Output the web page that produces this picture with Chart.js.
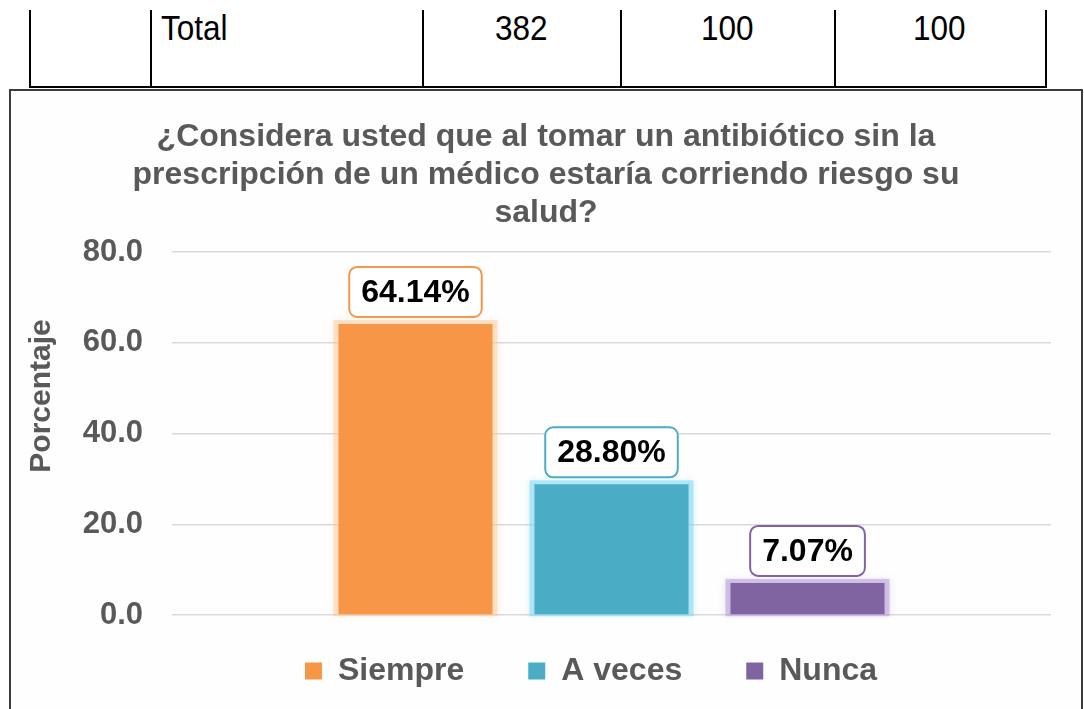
<!DOCTYPE html>
<html>
<head>
<meta charset="utf-8">
<script src="https://cdn.jsdelivr.net/npm/chart.js@4.4.1/dist/chart.umd.min.js"></script>
<style>
  html, body { margin: 0; padding: 0; background: #fff; width: 1084px; height: 709px; overflow: hidden; font-family: "Liberation Sans", Arial, sans-serif; }
  .vline { position: absolute; top: 10px; height: 78px; width: 2px; background: #000; }
  .hline { position: absolute; top: 86px; left: 29px; width: 1018px; height: 2px; background: #000; }
  .cell { position: absolute; top: 10px; font-size: 35px; line-height: 35px; color: #000; text-align: center; }
  .cell span { display: inline-block; transform: scaleX(0.9); }
  #box { position: absolute; left: 9px; top: 89px; width: 1070px; height: 640px; border: 2px solid #3c3c3c; background: #fefefe; }
  canvas { display: block; }
</style>
</head>
<body>
<!-- last row of the table above the chart -->
<div class="vline" style="left:29px"></div>
<div class="vline" style="left:150px"></div>
<div class="vline" style="left:422px"></div>
<div class="vline" style="left:620px"></div>
<div class="vline" style="left:834px"></div>
<div class="vline" style="left:1045px"></div>
<div class="hline"></div>
<div class="cell" style="left:161px; text-align:left"><span style="transform-origin:left center">Total</span></div>
<div class="cell" style="left:422px; width:198px"><span>382</span></div>
<div class="cell" style="left:620px; width:214px"><span>100</span></div>
<div class="cell" style="left:834px; width:211px"><span>100</span></div>

<div id="box">
  <canvas id="chart" width="1070" height="630"></canvas>
</div>

<script>
// Chart data
const categories = ['Porcentaje'];
const seriesNames = ['Siempre', 'A veces', 'Nunca'];
const seriesValues = [64.14, 28.80, 7.07];
const seriesColors = ['#F79646', '#4BACC6', '#8064A2'];
const glowColors = ['rgba(250,195,145,0.45)', 'rgba(130,215,240,0.55)', 'rgba(180,155,215,0.55)'];
const titleLines = [
  '¿Considera usted que al tomar un antibiótico sin la',
  'prescripción de un médico estaría corriendo riesgo su',
  'salud?'
];
const yAxisTitle = 'Porcentaje';

const FONT = '"Liberation Sans", Arial, sans-serif';
const GREY = '#595959';

// soft halo behind every bar
const barGlow = {
  id: 'barGlow',
  beforeDatasetDraw(chart, args) {
    const ctx = chart.ctx;
    const color = glowColors[args.index];
    ctx.save();
    ctx.fillStyle = color;
    ctx.shadowColor = color;
    ctx.shadowBlur = 7;
    args.meta.data.forEach(bar => {
      const { x, y, base, width } = bar.getProps(['x', 'y', 'base', 'width'], true);
      ctx.fillRect(x - width / 2 - 5, y - 4, width + 10, base - y + 6);
    });
    ctx.restore();
  }
};

// rounded value boxes above the bars
const valueBoxes = {
  id: 'valueBoxes',
  afterDatasetsDraw(chart) {
    const ctx = chart.ctx;
    ctx.save();
    ctx.font = 'bold 32px ' + FONT;
    ctx.textAlign = 'center';
    ctx.textBaseline = 'middle';
    chart.data.datasets.forEach((ds, i) => {
      chart.getDatasetMeta(i).data.forEach((bar, j) => {
        const text = ds.data[j].toFixed(2) + '%';
        const w = ctx.measureText(text).width + 24;
        const h = 50;
        const bottom = bar.y - 7;
        ctx.beginPath();
        ctx.roundRect(bar.x - w / 2, bottom - h, w, h, 8);
        ctx.fillStyle = '#ffffff';
        ctx.fill();
        ctx.lineWidth = 2;
        ctx.strokeStyle = seriesColors[i];
        ctx.stroke();
        ctx.fillStyle = '#000000';
        ctx.fillText(text, bar.x, bottom - h / 2 + 1);
      });
    });
    ctx.restore();
  }
};

// y axis title sits higher than the axis middle in the original
const yTitle = {
  id: 'yTitle',
  afterDraw(chart) {
    const ctx = chart.ctx;
    ctx.save();
    ctx.translate(31, 305);
    ctx.rotate(-Math.PI / 2);
    ctx.font = 'bold 30px ' + FONT;
    ctx.fillStyle = GREY;
    ctx.textAlign = 'center';
    ctx.textBaseline = 'middle';
    ctx.fillText(yAxisTitle, 0, 0);
    ctx.restore();
  }
};

// move legend to where it is in the original
const legendShift = {
  id: 'legendShift',
  afterLayout(chart) {
    const lg = chart.legend;
    lg.left += 45; lg.right += 45;
    lg.top -= 24; lg.bottom -= 24;
  }
};

new Chart(document.getElementById('chart'), {
  type: 'bar',
  data: {
    labels: categories,
    datasets: seriesNames.map((name, i) => ({
      label: name,
      data: [seriesValues[i]],
      backgroundColor: seriesColors[i],
      borderWidth: 0,
      barPercentage: 0.786,
      categoryPercentage: 0.669
    }))
  },
  options: {
    responsive: false,
    animation: false,
    devicePixelRatio: 1,
    layout: { padding: { left: 30, right: 30, top: 0, bottom: 0 } },
    plugins: {
      title: {
        display: true,
        text: titleLines,
        color: GREY,
        font: { family: FONT, size: 32, weight: 'bold', lineHeight: 38 / 32 },
        padding: { top: 27, bottom: 20 }
      },
      legend: {
        position: 'bottom',
        labels: {
          boxWidth: 17,
          boxHeight: 17,
          padding: 64,
          color: GREY,
          font: { family: FONT, size: 32, weight: 'bold' }
        }
      },
      tooltip: { enabled: false }
    },
    scales: {
      x: { display: false },
      y: {
        min: 0,
        max: 80,
        afterFit(scale) { scale.width = 131; },
        border: { display: false },
        grid: { color: '#d9d9d9', lineWidth: 1.5, drawTicks: false },
        ticks: {
          stepSize: 20,
          padding: 29,
          color: GREY,
          font: { family: FONT, size: 31, weight: 'bold' },
          callback: v => v.toFixed(1)
        }
      }
    }
  },
  plugins: [barGlow, valueBoxes, yTitle, legendShift]
});
</script>
</body>
</html>
